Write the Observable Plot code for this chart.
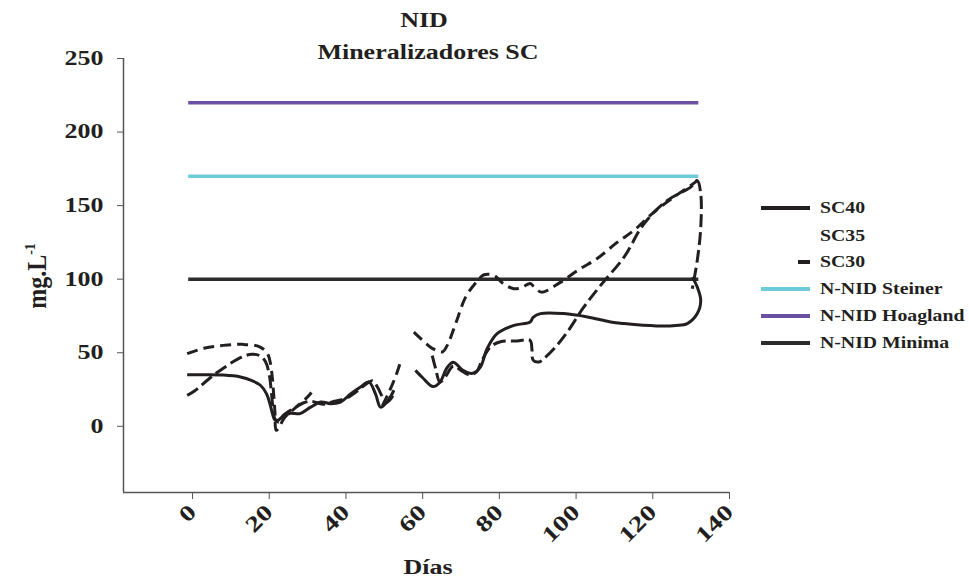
<!DOCTYPE html>
<html><head><meta charset="utf-8">
<script src="https://cdn.jsdelivr.net/npm/d3@7"></script>
<script src="https://cdn.jsdelivr.net/npm/@observablehq/plot@0.6"></script>
<style>
body{margin:0;background:#fff;}
#wrap{position:relative;width:969px;height:582px;overflow:hidden;font-family:"Liberation Serif","Times New Roman",serif;font-weight:bold;color:#231f20;}
#wrap svg.main{position:absolute;left:0;top:0;}
.t{position:absolute;white-space:nowrap;line-height:1;}
</style></head><body><div id="wrap"></div>
<script>
// ---- text ----
const titleLines = ["NID", "Mineralizadores SC"];
const xLabel = "Días";
const yLabel = "mg.L";
const yLabelSup = "-1";
const xTicks = [0, 20, 40, 60, 80, 100, 120, 140];
const yTicks = [0, 50, 100, 150, 200, 250];

// ---- series (day, mg/L); null = gap ----
const sc40Days = [-1.4, 3, 8, 12.5, 15.5, 17.7, 19.3, 20.3, 20.9, 21.4, 22.2, 23, 25.5, 28, 30.8, 33.4, 36, 38.6, 41.2, 43.8, 46, 47.7, 49, 50.3, 51.6, 52.5, 55, 58.1, 60, 62.7, 64.5, 66.4, 68, 70.5, 73, 75, 76.8, 79.4, 83.8, 88, 88.8, 90.7, 96.8, 103, 109, 112.5, 121, 126, 129, 131.6, 132.5, 131.6, 130.3];
const sc40Vals = [35, 35, 34.8, 33.5, 31, 27.9, 22, 14, 8, 4.5, 4, 5.5, 8.8, 8.6, 13, 16.5, 15.4, 16.5, 22, 26.7, 30, 22, 13, 15.4, 20, 24.5, null, 38, 33, 27, 30, 40, 43.5, 38, 36, 40, 52.8, 63, 68.6, 70.9, 74, 76.6, 76.6, 74.3, 70.9, 69.8, 68.2, 68.5, 69.8, 76.6, 85.6, 94.6, 101.4];

const sc35Days = [-1.4, 0.5, 6, 12.8, 15.5, 17.5, 19, 20, 20.6, 21, 21.5, 22.5, 23.5, 25, 27, 29, 31, 34, 37, 40, 43, 46.9, 48.2, 49.5, 50.5, 51.5, 52.5, 57, 62.5, 63.4, 64.5, 66, 68, 70, 72, 74, 75.5, 77.7, 80.3, 84.6, 88, 88.5, 88.8, 90.3, 91.6, 95, 97.7, 102, 106.4, 112.5, 117.7, 123.8, 129.9, 131.6, 132.5, 132.5, 131.6, 130.3];
const sc35Vals = [21, 24, 35.8, 47, 49, 48, 44, 35, 22, 12, 5, 3, 7, 10, 13, 16, 17, 15, 17, 19, 24, 31, 26.7, 20, 16, 18, 22, null, 48, 39, 30, 34, 41, 38, 35, 37, 45, 54, 57.5, 58, 58.4, 52, 45, 43.7, 46, 55, 64, 81, 95.8, 115, 137.7, 153.5, 162.6, 167, 158, 135, 112.8, 93.5];

const sc30Days = [-1.4, 3, 8, 13, 17.5, 19.5, 20.3, 20.8, 21.2, 21.5, 21.8, 22.5, 24, 27, 30, 31, 40, 49.5, 51, 52.5, 53.5, 54.5, 56, 57.7, 61, 62.5, 65.1, 66.4, 68.6, 71.2, 74, 76, 78.6, 81, 83.8, 86, 88, 89, 91, 96, 101, 105.5, 110.7, 115, 120.3, 125.5, 129.9, 131.6];
const sc30Vals = [49.4, 53, 55, 55.7, 54, 49.5, 43, 33, 20, 9, -2.7, -1, 6, 13, 20, 23, null, 14, 22, 31, 38, 46, null, 64, 56, 53, 50.5, 55, 69.8, 87.8, 98, 103, 102.6, 97, 93.5, 94.6, 97, 95, 91.2, 98, 107, 114, 125, 133, 145.6, 155.8, 163.7, 167];

// ---- reference levels ----
const refNames = ["N-NID Steiner", "N-NID Hoagland", "N-NID Minima"];
const refVals = [170, 220, 100];
const refDays = [-1, 132];

const legendNames = ["SC40", "SC35", "SC30", "N-NID Steiner", "N-NID Hoagland", "N-NID Minima"];

// ---- build ----
const ink = "#231f20";
const refColors = ["#6ccad9", "#6a51a3", "#2b2b2b"];
const toRows = (days, vals) => days.map((d, i) => ({day: d, v: vals[i]}));
const series = [
  {name: "SC40", rows: toRows(sc40Days, sc40Vals), dash: null},
  {name: "SC35", rows: toRows(sc35Days, sc35Vals), dash: "13,5"},
  {name: "SC30", rows: toRows(sc30Days, sc30Vals), dash: "11,6"}
];
const refRows = refNames.map((n, i) => ({name: n, v: refVals[i], x1: refDays[0], x2: refDays[1]}));

const plot = Plot.plot({
  width: 969, height: 582,
  marginLeft: 123, marginRight: 240, marginTop: 58, marginBottom: 90,
  style: {fontFamily: "'Liberation Serif','Times New Roman',serif", fontSize: "20px", fontWeight: "bold", color: ink, background: "transparent"},
  x: {domain: [-18, 140]},
  y: {domain: [-45, 250]},
  marks: [
    Plot.ruleY(refRows, {y: "v", x1: "x1", x2: "x2", stroke: (d) => refColors[refNames.indexOf(d.name)], strokeWidth: 3.5}),
    ...series.map(s => Plot.line(s.rows, {x: "day", y: "v", stroke: ink, strokeWidth: 3, curve: "catmull-rom", strokeDasharray: s.dash ?? undefined, strokeLinecap: "butt"})),
    Plot.axisY({ticks: yTicks, tickSize: 6, tickPadding: 14, label: null, fontSize: 20, fontWeight: "bold", stroke: "#555"}),
    Plot.axisX({ticks: xTicks, tickSize: 7, tickPadding: 9, tickRotate: -45, label: null, fontSize: 22, fontWeight: "bold", stroke: "#555"}),
    Plot.ruleX([-18], {y1: -45, y2: 250, stroke: "#555", strokeWidth: 1.5}),
    Plot.ruleY([-45], {x1: -18, x2: 140, stroke: "#555", strokeWidth: 1.5})
  ]
});
plot.classList.add("main");
const wrap = document.getElementById("wrap");
wrap.appendChild(plot);

// horizontal stretch of SVG text to mimic the reference
plot.querySelectorAll("text").forEach(t => {
  const L = t.getComputedTextLength();
  if (L > 0) { t.setAttribute("textLength", L * 1.3); t.setAttribute("lengthAdjust", "spacingAndGlyphs"); }
});

function addText(txt, x, y, size, transform) {
  const d = document.createElement("div");
  d.className = "t";
  d.style.left = x + "px"; d.style.top = y + "px";
  d.style.fontSize = size + "px";
  d.style.transform = transform;
  d.textContent = txt;
  wrap.appendChild(d);
  return d;
}
addText(titleLines[0], 424, 20, 20, "translate(-50%,-50%) scaleX(1.3)");
addText(titleLines[1], 428, 52, 20, "translate(-50%,-50%) scaleX(1.3)");
addText(xLabel, 428, 567, 20, "translate(-50%,-50%) scaleX(1.3)");
const yl = addText(yLabel, 37, 276, 24, "translate(-50%,-50%) rotate(-90deg) scaleY(1.1)");
const sup = document.createElement("sup");
sup.textContent = yLabelSup; sup.style.fontSize = "14px"; sup.style.verticalAlign = "0.7em";
yl.appendChild(sup);

// legend
const legendY = [208, 236, 262, 289, 316, 343];
const ns = "http://www.w3.org/2000/svg";
const lg = document.createElementNS(ns, "svg");
lg.setAttribute("width", 969); lg.setAttribute("height", 582);
lg.style.position = "absolute"; lg.style.left = "0"; lg.style.top = "0";
wrap.appendChild(lg);
legendNames.forEach((n, i) => {
  const y = legendY[i];
  let x1 = 761, stroke = ink;
  if (n === "SC35") stroke = "none";
  if (n === "SC30") x1 = 798;
  const ri = refNames.indexOf(n);
  if (ri >= 0) stroke = refColors[ri];
  const ln = document.createElementNS(ns, "line");
  ln.setAttribute("x1", x1); ln.setAttribute("x2", 810);
  ln.setAttribute("y1", y); ln.setAttribute("y2", y);
  ln.setAttribute("stroke", stroke); ln.setAttribute("stroke-width", 4);
  lg.appendChild(ln);
  addText(n, 820, y, 17.5, "translate(0,-50%) scaleX(1.13)").style.transformOrigin = "0 50%";
});
</script></body></html>
